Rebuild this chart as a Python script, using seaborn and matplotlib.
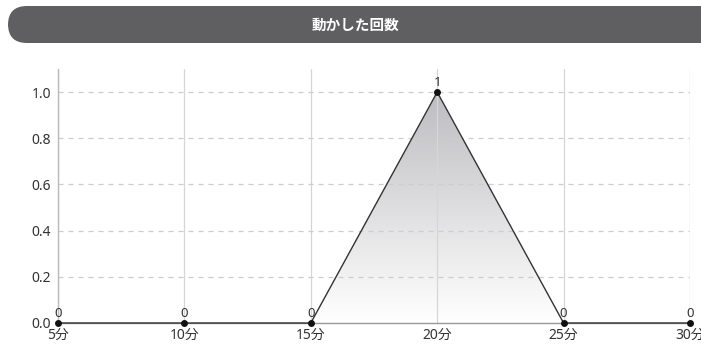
import numpy as np
import matplotlib
matplotlib.use("Agg")
import matplotlib.pyplot as plt
from matplotlib.patches import FancyBboxPatch, Polygon
import seaborn as sns
import pandas as pd

# Data: number of moves per 5-minute slot
minutes = [5, 10, 15, 20, 25, 30]
tick_labels = ["5分", "10分", "15分", "20分", "25分", "30分"]
counts = [0, 0, 0, 1, 0, 0]
title = "動かした回数"

sns.set_theme(style="white")
plt.rcParams["font.family"] = ["Noto Sans", "Noto Sans CJK JP", "DejaVu Sans"]

W, H = 701, 347
fig = plt.figure(figsize=(W / 100, H / 100), dpi=100)

# Header bar
bar = FancyBboxPatch((8 / W, 1 - 43 / H), (720 - 8) / W, 37 / H,
                     boxstyle="round,pad=0,rounding_size=0.027",
                     transform=fig.transFigure, facecolor="#5f5f61",
                     edgecolor="none", mutation_aspect=W / H)
fig.patches.append(bar)
fig.text(355 / W, 1 - 25 / H, title, color="white", fontsize=10.5,
         fontweight="bold", ha="center", va="center",
         family=["Noto Sans CJK JP", "DejaVu Sans"])

ax = fig.add_axes([58 / W, 1 - 323 / H, (690 - 58) / W, (323 - 69) / H])
df = pd.DataFrame({"minute": minutes, "count": counts})

ax.set_xlim(5, 30)
ax.set_ylim(0, 1.1)

# Gradient fill under the line
grad = np.linspace(0, 1, 256).reshape(-1, 1)
cmap = matplotlib.colors.LinearSegmentedColormap.from_list(
    "g", ["#ffffff", "#bdbdc1"])
img = ax.imshow(grad, cmap=cmap, aspect="auto", origin="lower",
                extent=[5, 30, 0, 1.0], zorder=1)
verts = [(minutes[0], 0)] + list(zip(minutes, counts)) + [(minutes[-1], 0)]
poly = Polygon(verts, closed=True, facecolor="none", edgecolor="none")
ax.add_patch(poly)
img.set_clip_path(poly)

# Grid, drawn over the fill
for m in minutes:
    ax.axvline(m, color="#d6d6d6", lw=0.9, zorder=2)
for yv in [0.2, 0.4, 0.6, 0.8, 1.0]:
    ax.axhline(yv, color="#cdcdcd", lw=0.9, ls=(0, (4, 4)), zorder=2)

sns.lineplot(data=df, x="minute", y="count", ax=ax, color="#333333",
             lw=1, marker="o", markersize=5, markeredgewidth=0,
             markerfacecolor="#111111", zorder=3, clip_on=False)

for m, c in zip(minutes, counts):
    ax.annotate(str(c), (m, c), xytext=(0, 2), textcoords="offset points",
                ha="center", va="bottom", fontsize=9.5, color="#333333")

ax.set_xticks(minutes)
ax.set_xticklabels(tick_labels)
ax.set_yticks([0, 0.2, 0.4, 0.6, 0.8, 1.0])
ax.set_yticklabels(["0.0", "0.2", "0.4", "0.6", "0.8", "1.0"])
ax.tick_params(axis="both", length=0, labelsize=10, labelcolor="#333333")
ax.tick_params(axis="x", pad=3.5)
ax.tick_params(axis="y", pad=5)
ax.set_xlabel("")
ax.set_ylabel("")

for s in ["top", "right"]:
    ax.spines[s].set_visible(False)
ax.spines["left"].set_color("#bbbbbb")
ax.spines["left"].set_linewidth(1)
ax.spines["bottom"].set_color("#999999")
ax.spines["bottom"].set_linewidth(1)

fig.savefig("out.png", dpi=100)
